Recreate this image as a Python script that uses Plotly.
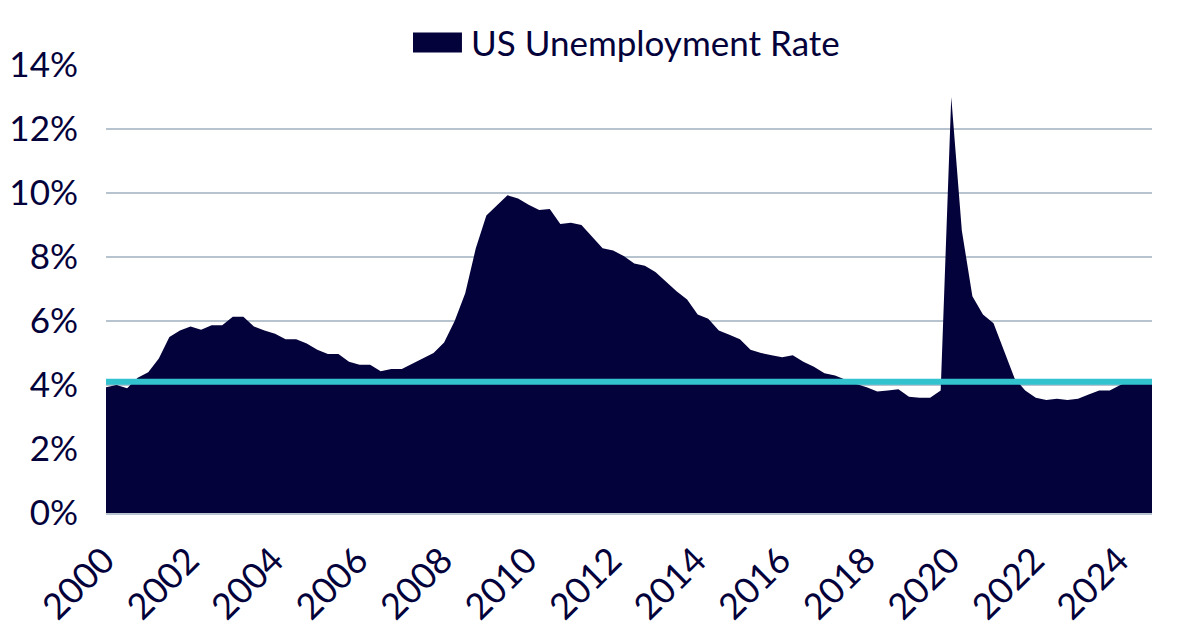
import plotly.graph_objects as go

# Quarterly periods 2000Q2 .. 2025Q1
quarters = [f"{y}Q{q}" for y in range(2000, 2026) for q in range(1, 5)]
quarters = quarters[1:101]

unemployment = [
    3.93, 4.00, 3.90,
    4.23, 4.40, 4.83, 5.50,
    5.70, 5.83, 5.73, 5.87,
    5.87, 6.13, 6.13, 5.83,
    5.70, 5.60, 5.43, 5.43,
    5.30, 5.10, 4.97, 4.97,
    4.73, 4.63, 4.63, 4.43,
    4.50, 4.50, 4.67, 4.83,
    5.00, 5.33, 6.00, 6.87,
    8.27, 9.30, 9.63, 9.93,
    9.83, 9.63, 9.47, 9.50,
    9.03, 9.07, 9.00, 8.63,
    8.27, 8.20, 8.03, 7.80,
    7.73, 7.53, 7.23, 6.93,
    6.67, 6.20, 6.07, 5.70,
    5.57, 5.43, 5.10, 5.00,
    4.93, 4.87, 4.93, 4.73,
    4.57, 4.37, 4.30, 4.17,
    4.03, 3.93, 3.80, 3.83,
    3.87, 3.63, 3.60, 3.60,
    3.83, 13.00, 8.83, 6.77,
    6.20, 5.93, 5.07, 4.20,
    3.83, 3.60, 3.53, 3.57,
    3.53, 3.57, 3.70, 3.83,
    3.83, 4.00, 4.13, 4.13,
    4.10,
]

reference_level = [4.1] * len(quarters)

tick_quarters = quarters[0::8]
tick_labels = [q[:4] for q in tick_quarters]

y_ticks = [0, 2, 4, 6, 8, 10, 12, 14]
y_labels = [f"{v}%" for v in y_ticks]

navy = "#04023A"
cyan = "#33C3CF"
grid = "#B7C3CE"
font_family = "Lato"
fsize = 35

fig = go.Figure()
fig.add_trace(go.Scatter(
    x=quarters, y=unemployment, mode="lines", fill="tozeroy",
    line=dict(width=0, color=navy), fillcolor=navy,
    name="US Unemployment Rate", showlegend=False,
))
fig.add_trace(go.Scatter(
    x=quarters, y=reference_level, mode="lines",
    line=dict(width=6, color=cyan), showlegend=False,
))

fig.update_layout(
    width=1200, height=630,
    margin=dict(l=98, r=56, t=57, b=125),
    plot_bgcolor="white", paper_bgcolor="white",
    font=dict(family=font_family, color=navy, size=fsize),
    xaxis=dict(
        type="category", range=[0, len(quarters) - 1],
        tickmode="array", tickvals=tick_quarters, ticktext=tick_labels,
        tickangle=-45, showgrid=False, zeroline=False,
        showline=True, linecolor=grid, linewidth=1.5,
        ticks="", ticklabelstandoff=10, ticklabelshift=-2, automargin=False,
        tickfont=dict(size=36, family=font_family, color=navy),
    ),
    yaxis=dict(
        range=[0, 14], tickvals=y_ticks, ticktext=y_labels,
        showgrid=True, gridcolor=grid, gridwidth=1.5, zeroline=False,
        ticks="", ticklabelstandoff=27, automargin=False,
        tickfont=dict(size=fsize, family=font_family, color=navy),
    ),
    shapes=[dict(
        type="rect", xref="paper", yref="paper",
        x0=0.2935, x1=0.3403, y0=1.0279, y1=1.0725,
        fillcolor=navy, line=dict(width=0),
    )],
    annotations=[dict(
        text="US Unemployment Rate", xref="paper", yref="paper",
        x=0.347, y=1.052, xanchor="left", yanchor="middle",
        showarrow=False, font=dict(size=fsize, family=font_family, color=navy),
    )],
)

fig.write_html("out.html")
